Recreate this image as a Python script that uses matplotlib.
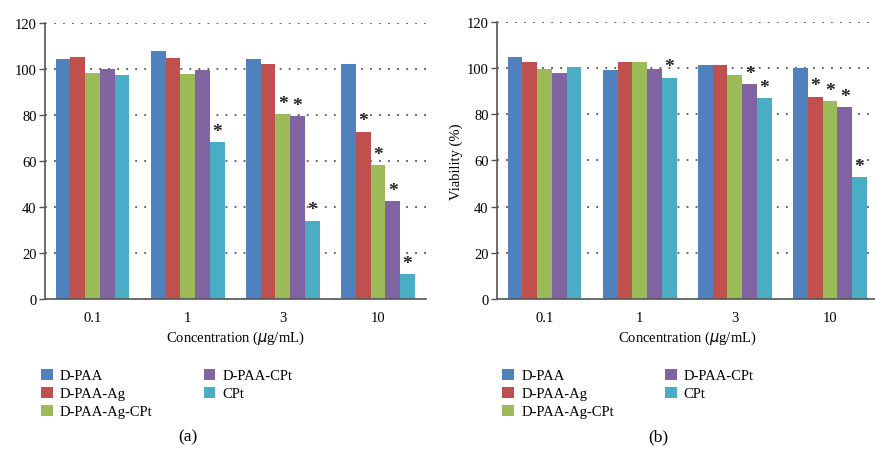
import numpy as np
import matplotlib
matplotlib.use("Agg")
import matplotlib.pyplot as plt
from matplotlib.patches import Patch

plt.rcParams['font.family'] = ['Liberation Serif', 'DejaVu Serif']

# data
concentrations = ['0.1', '1', '3', '10']
series = ['D-PAA', 'D-PAA-Ag', 'D-PAA-Ag-CPt', 'D-PAA-CPt', 'CPt']
colors = ['#4F81BD', '#C0504D', '#9BBB59', '#8064A2', '#4BACC6']

# panel (a)
a_dpaa = [104.4, 108.0, 104.2, 102.1]
a_dpaa_ag = [105.1, 104.7, 102.1, 72.7]
a_dpaa_ag_cpt = [98.2, 97.7, 80.4, 58.1]
a_dpaa_cpt = [99.8, 99.5, 79.4, 42.4]
a_cpt = [97.2, 68.2, 34.1, 10.8]
# significance stars: (group, series)
a_stars = [(1, 4), (2, 2), (2, 3), (2, 4), (3, 1), (3, 2), (3, 3), (3, 4)]

# panel (b)
b_dpaa = [104.6, 99.1, 101.1, 99.8]
b_dpaa_ag = [102.7, 102.7, 101.1, 87.6]
b_dpaa_ag_cpt = [99.4, 102.4, 96.8, 85.6]
b_dpaa_cpt = [97.8, 99.5, 93.1, 83.1]
b_cpt = [100.2, 95.8, 87.0, 52.6]
b_stars = [(1, 4), (2, 3), (2, 4), (3, 1), (3, 2), (3, 3), (3, 4)]

fig = plt.figure(figsize=(8.75, 4.52), dpi=100)
ax_a = fig.add_axes([0.0514, 0.3363, 0.4349, 0.6106])
ax_b = fig.add_axes([0.568, 0.3363, 0.4349, 0.6135])

width = 0.155
x = np.arange(len(concentrations))


def draw_panel(ax, data, stars, ylabel=None):
    for i, vals in enumerate(data):
        ax.bar(x + (i - 2) * width, vals, width, color=colors[i],
               edgecolor='none', zorder=2)
    for g, s in stars:
        ax.text(x[g] + (s - 2) * width, data[s][g] + 1.0, '*',
                ha='center', va='bottom', fontsize=14, fontweight='bold',
                color='#222222', zorder=3)
    ax.set_xlim(-0.5, 3.5)
    ax.set_ylim(0, 120)
    ax.set_yticks(range(0, 121, 20))
    ax.set_xticks(x)
    ax.set_xticklabels(concentrations)
    ax.tick_params(axis='y', direction='out', length=4, width=1, color='#555555',
                   labelsize=10.5, pad=2)
    ax.tick_params(axis='x', length=0, labelsize=10.5, pad=9)
    for sp in ['top', 'right']:
        ax.spines[sp].set_visible(False)
    for sp in ['left', 'bottom']:
        ax.spines[sp].set_color('#555555')
        ax.spines[sp].set_linewidth(1.2)
    ax.yaxis.grid(True, linestyle=(0, (1, 4)), color='#555555', linewidth=1.3, zorder=0)
    ax.set_axisbelow(True)
    ax.set_xlabel('Concentration ($\\mu$g/mL)', fontsize=10.5, labelpad=3)
    if ylabel:
        ax.set_ylabel(ylabel, fontsize=10.5, labelpad=3)


draw_panel(ax_a, [a_dpaa, a_dpaa_ag, a_dpaa_ag_cpt, a_dpaa_cpt, a_cpt], a_stars)
draw_panel(ax_b, [b_dpaa, b_dpaa_ag, b_dpaa_ag_cpt, b_dpaa_cpt, b_cpt], b_stars,
           ylabel='Viability (%)')

handles = [Patch(facecolor=c, edgecolor='none', label=s) for c, s in zip(colors, series)]
for xpos, tag, tagx in [(0.047, '(a)', 0.215), (0.574, '(b)', 0.752)]:
    fig.legend(handles=handles, ncol=2, loc='upper left', bbox_to_anchor=(xpos, 0.182),
               frameon=False, fontsize=10.5, handlelength=0.8, handleheight=0.8,
               handletextpad=0.5, columnspacing=3.5, labelspacing=0.3,
               borderaxespad=0, borderpad=0)
    fig.text(tagx, 0.032, tag, ha='center', va='center', fontsize=12.5)

fig.savefig('out.png', dpi=100)
